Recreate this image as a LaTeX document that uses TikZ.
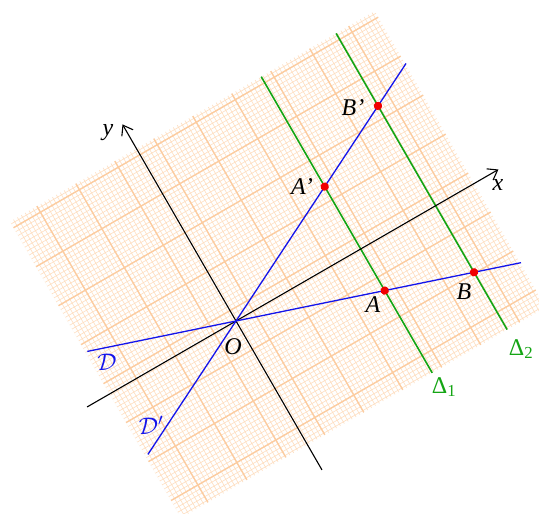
\RequirePackage{fix-cm}
\documentclass[tikz,border=0pt]{standalone}
\usepackage{fontspec}
\setmainfont{Liberation Serif}
\usetikzlibrary{arrows.meta}
\definecolor{gridthin}{RGB}{254,222,192}
\definecolor{gridthick}{RGB}{252,204,160}
\definecolor{lineblue}{RGB}{20,20,235}
\definecolor{linegreen}{RGB}{20,165,20}
\definecolor{dotred}{RGB}{240,0,0}
\tikzset{
  axisline/.style={draw=black,line width=1.1pt,-{Straight Barb[length=9pt,width=13pt,line width=1.1pt]}},
  axisback/.style={draw=black,line width=1.1pt},
  blueline/.style={draw=lineblue,line width=1.3pt},
  greenline/.style={draw=linegreen,line width=1.6pt},
  reddot/.style={fill=dotred,draw=none},
  lab/.style={font=\fontsize{24}{26}\selectfont\itshape,inner sep=0pt},
  bluelab/.style={font=\fontsize{24}{26}\selectfont,text=lineblue,inner sep=0pt},
  greenlab/.style={font=\fontsize{24}{26}\selectfont,text=linegreen,inner sep=0pt},
}
\begin{document}
\begin{tikzpicture}[x=1pt,y=1pt]
\useasboundingbox (0,0) rectangle (539,514);
\fill[white] (0,0) rectangle (539,514);
\begin{scope}[shift={(236,193)},rotate=30]
  % graph paper
  \begin{scope}
    \clip (-146,-143) rectangle (275,199);
    \begin{scope}[shift={(20,57)}]
      \draw[gridthin,line width=0.6pt,step=4.5] (-170,-204) grid (260,146);
      \draw[gridthick,line width=1.4pt,step=45] (-170,-204) grid (260,146);
    \end{scope}
  \end{scope}
  % named points
  \coordinate (O) at (0,0);
  \coordinate (xneg) at (-172,0);
  \coordinate (xpos) at (303,0);
  \coordinate (yneg) at (0,-172);
  \coordinate (ypos) at (0,227);
  \coordinate (Dl) at (-144,48);
  \coordinate (Dr) at (276,-92);
  \coordinate (Dpl) at (-143,-71.5);
  \coordinate (Dpr) at (276,138);
  \coordinate (Done) at (144,-143);
  \coordinate (Dtop) at (144,199);
  \coordinate (Ptwo) at (230.5,-143);
  \coordinate (Ptop) at (230.5,199);
  \coordinate (A) at (144,-48);
  \coordinate (B) at (230.5,-76.83);
  \coordinate (Ap) at (144,72);
  \coordinate (Bp) at (230.5,115.25);
  % lines
  \draw[greenline] (Done) -- (Dtop);
  \draw[greenline] (Ptwo) -- (Ptop);
  \draw[axisback] (xneg) -- (O);
  \draw[axisline] (O) -- (xpos);
  \draw[axisback] (yneg) -- (O);
  \draw[axisline] (O) -- (ypos);
  \draw[blueline] (Dl) -- (Dr);
  \draw[blueline] (Dpl) -- (Dpr);
  \foreach \p in {A,B,Ap,Bp} \fill[reddot] (\p) circle (4.2);
\end{scope}
% labels
\node[lab] (ly) at (108,381) {y};
\node[lab] (lx) at (498,329) {x};
\node[lab] (lBp) at (353,406) {B'};
\node[lab] (lAp) at (302,327) {A'};
\node[lab] (lA) at (373,209) {A};
\node[lab] (lB) at (464,222) {B};
\node[lab] (lO) at (233,167) {O};
\node[bluelab] (lD) at (107,152) {$\mathcal{D}$};
\node[bluelab] (lDp) at (151,89) {$\mathcal{D}'$};
\node[greenlab] (lDelta1) at (444,127) {Δ\textsubscript{1}};
\node[greenlab] (lDelta2) at (521,165) {Δ\textsubscript{2}};
\end{tikzpicture}
\end{document}
